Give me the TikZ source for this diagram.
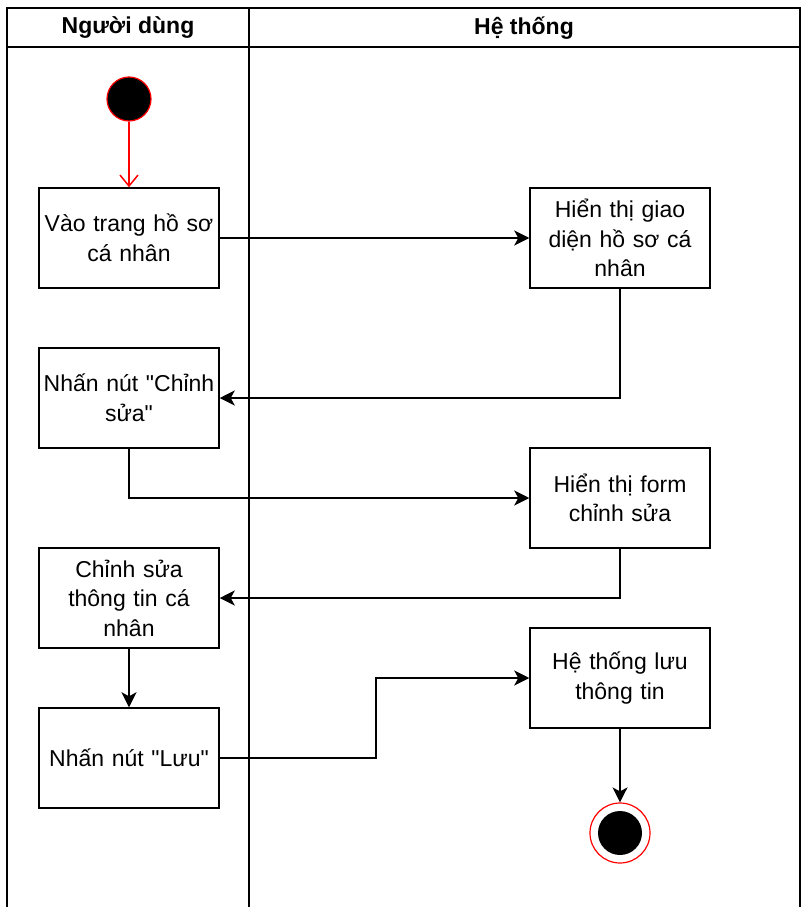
\documentclass[tikz,border=0pt]{standalone}
\usepackage{fontspec}
\setmainfont{Liberation Sans}[Ligatures=TeXOff]
\usetikzlibrary{arrows.meta}
\newcommand{\lane}[1]{\textbf{#1}}

\tikzset{
	box/.style={draw, line width=1.5pt, minimum width=180pt, minimum height=100pt,
		inner sep=0pt, text width=178pt, align=center,
		font=\fontsize{23}{29.5}\selectfont},
	arr/.style={line width=1.5pt, -{Stealth[length=15pt,width=15pt,inset=4pt]}},
}

\begin{document}
\begin{tikzpicture}[x=1pt, y=-1pt]
		\useasboundingbox (0,0) rectangle (801,907);
		
		% swimlanes
		\draw[line width=2pt] (7,907) -- (7,8) -- (800,8) -- (800,907);
		\draw[line width=2pt] (7,47) -- (800,47);
		\draw[line width=2pt] (249,8) -- (249,907);
		
		\node (nguoidung) at (128,28) {\fontsize{23}{28}\selectfont\lane{Người dùng}};
		\node (hethong) at (524,28) {\fontsize{23}{28}\selectfont\lane{Hệ thống}};
		
		% user lane
		\node[circle, draw=red, fill=black, line width=1.2pt, minimum size=44pt, inner sep=0pt] (start) at (129,99) {};
		\node[box] (vao) at (129,238) {Vào trang hồ sơ\\cá nhân};
		\node[box] (nhansua) at (129,398) {Nhấn nút "Chỉnh\\sửa"};
		\node[box] (chinhsua) at (129,598) {Chỉnh sửa\\thông tin cá\\nhân};
		\node[box] (nhanluu) at (129,758) {Nhấn nút "Lưu"};
		
		% system lane
		\node[box] (hienthi) at (620,238) {Hiển thị giao\\diện hồ sơ cá\\nhân};
		\node[box] (hienform) at (620,498) {Hiển thị form\\chỉnh sửa};
		\node[box] (luu) at (620,678) {Hệ thống lưu\\thông tin};
		\node[circle, draw=red, fill=white, line width=1.2pt, minimum size=60pt, inner sep=0pt] (stop) at (620,833) {};
		\node[circle, fill=black, minimum size=44pt, inner sep=0pt] (stopdot) at (stop) {};
		
		% flow
		\draw[red, line width=1.5pt, -{Straight Barb[length=11pt,width=18pt]}] (start) -- (vao);
		\draw[arr] (vao) -- (hienthi);
		\draw[arr] (hienthi.south) |- (nhansua.east);
		\draw[arr] (nhansua.south) |- (hienform.west);
		\draw[arr] (hienform.south) |- (chinhsua.east);
		\draw[arr] (chinhsua) -- (nhanluu);
		\draw[arr] (nhanluu.east) -- ++(156,0) |- (luu.west);
		\draw[arr] (luu) -- (stop);
\end{tikzpicture}
\end{document}
